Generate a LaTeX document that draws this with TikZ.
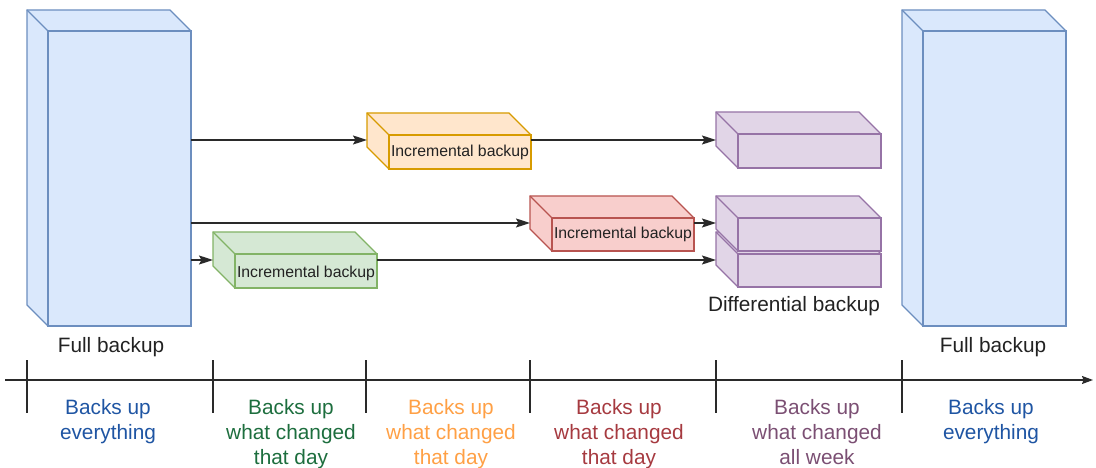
\documentclass[tikz,border=0pt]{standalone}
\usepackage{fontspec}
\setmainfont{Liberation Sans}
\usetikzlibrary{arrows.meta}
\definecolor{blueF}{HTML}{DAE8FC}\definecolor{blueD}{HTML}{6C8EBF}
\definecolor{orF}{HTML}{FFE6CC}\definecolor{orD}{HTML}{D79B00}
\definecolor{grF}{HTML}{D5E8D4}\definecolor{grD}{HTML}{82B366}
\definecolor{rdF}{HTML}{F8CECC}\definecolor{rdD}{HTML}{B85450}
\definecolor{puF}{HTML}{E1D5E7}\definecolor{puD}{HTML}{9673A6}
\definecolor{txBlue}{HTML}{1F55A3}\definecolor{txGreen}{HTML}{1D6E3E}
\definecolor{txOrange}{HTML}{FFA045}\definecolor{txRed}{HTML}{A63A40}
\definecolor{txPurple}{HTML}{7B4F73}\definecolor{txDark}{HTML}{222222}
\definecolor{lineC}{HTML}{2A2A2A}
\tikzset{
  bluebox/.style={fill=blueF,draw=blueD,line width=1.3pt,line join=miter},
  orbox/.style={fill=orF,draw=orD,line width=1.3pt},
  grbox/.style={fill=grF,draw=grD,line width=1.3pt},
  rdbox/.style={fill=rdF,draw=rdD,line width=1.3pt},
  pubox/.style={fill=puF,draw=puD,line width=1.3pt},
  bigtext/.style={font=\fontsize{20.8}{25}\selectfont,text=txDark,inner sep=0pt,anchor=base},
  smalltext/.style={font=\fontsize{15.8}{19}\selectfont,text=txDark,inner sep=0pt,anchor=base},
  tltext/.style={font=\fontsize{20.8}{25}\selectfont,inner sep=0pt,anchor=base,align=center},
  conn/.style={draw=lineC,line width=1.4pt,-{Stealth[length=14pt,width=9pt,inset=2.5pt]}},
  tick/.style={draw=lineC,line width=1.3pt},
  hidden/.style={inner sep=0pt,outer sep=0pt}
}
% \cuboid{name}{x back-left}{y back-top}{x front-right}{y front-bottom}{depth}{style}
\newcommand\cuboid[7]{%
  \node[hidden,minimum width={#4-#2},minimum height={#5-#3}] (#1) at ({(#2+#4)/2},{(#3+#5)/2}) {};
  \path[#7] (#2,#3) -- ({#4-#6},#3) -- (#4,{#3+#6}) -- (#4,#5) -- ({#2+#6},#5) -- (#2,{#5-#6}) -- cycle;
  \draw[#7] ({#2+#6},{#3+#6}) rectangle (#4,#5);
  \draw[#7] (#2,#3) -- ({#2+#6},{#3+#6});
}
\begin{document}
\begin{tikzpicture}[x=1pt,y=-1pt]
\useasboundingbox (0,0) rectangle (1096,468);
% full backups
\cuboid{fullL}{27}{10}{191}{326}{21}{bluebox}
\cuboid{fullR}{902}{10}{1066}{326}{21}{bluebox}
\node[bigtext] (fullLt) at (111,352) {Full backup};
\node[bigtext] (fullRt) at (993,352) {Full backup};
% incremental backups
\cuboid{incO}{367}{113}{531}{169}{22}{orbox}
\node[smalltext] (incOt) at (460,157) {Incremental backup};
\cuboid{incR}{530}{196}{694}{251}{22}{rdbox}
\node[smalltext] (incRt) at (623,239) {Incremental backup};
\cuboid{incG}{213}{232}{377}{288}{22}{grbox}
\node[smalltext] (incGt) at (306,277) {Incremental backup};
% differential
\cuboid{difA}{716}{112}{881}{168}{22}{pubox}
\cuboid{difC}{716}{232}{881}{287}{22}{pubox}
\cuboid{difB}{716}{196}{881}{251}{22}{pubox}
\node[bigtext] (difT) at (794,311) {Differential backup};
% connectors
\draw[conn] (fullL.east |- 0,140) -- (incO.west |- 0,140);
\draw[conn] (incO.east |- 0,140) -- (difA.west |- 0,140);
\draw[conn] (fullL.east |- 0,223) -- (incR.west |- 0,223);
\draw[conn] (incR.east |- 0,223) -- (difB.west |- 0,223);
\draw[conn] (fullL.east |- 0,260) -- (incG.west |- 0,260);
\draw[conn] (incG.east |- 0,260) -- (difC.west |- 0,260);
% timeline
\coordinate (tS) at (5,380);
\coordinate (tE) at (1093,380);
\draw[draw=lineC,line width=1.3pt,-{Stealth[length=11pt,width=8pt,inset=1.5pt]}] (tS) -- (tE);
\foreach \x in {27,213,366,530,716,902} \draw[tick] (\x,360) -- (\x,413);
\node[tltext,text=txBlue] (l1) at (108,439) {Backs up\\everything};
\node[tltext,text=txGreen] (l2) at (291,464) {Backs up\\what changed\\that day};
\node[tltext,text=txOrange] (l3) at (451,464) {Backs up\\what changed\\that day};
\node[tltext,text=txRed] (l4) at (619,464) {Backs up\\what changed\\that day};
\node[tltext,text=txPurple] (l5) at (817,464) {Backs up\\what changed\\all week};
\node[tltext,text=txBlue] (l6) at (991,439) {Backs up\\everything};
\end{tikzpicture}
\end{document}
